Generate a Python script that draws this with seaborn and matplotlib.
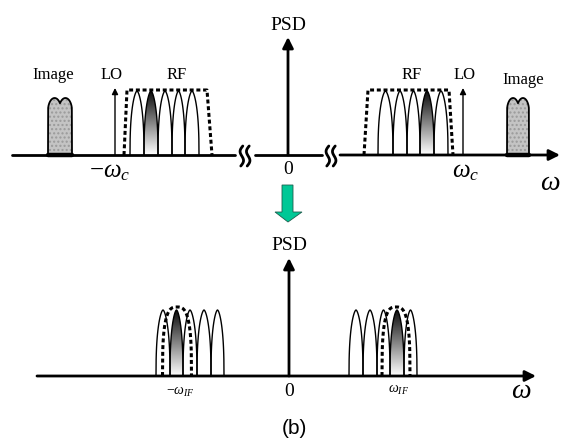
import numpy as np
import matplotlib
matplotlib.use("Agg")
import matplotlib.pyplot as plt
from matplotlib.patches import Polygon
import seaborn as sns

# ---- diagram values (pixel space of the original figure) ----
top_base = 155
top_peak = 91
bot_base = 376
bot_peak = 310

top_lobes_left = [130, 144, 158, 172, 185, 199]
top_lobes_right = [378, 393, 407, 420, 434, 448]
top_filled_left = 1
top_filled_right = 3

bot_lobes_left = [156, 170, 183, 197, 211, 224]
bot_lobes_right = [349, 363, 377, 390, 404, 417]
bot_filled_left = 1
bot_filled_right = 3

# RF filter mask (trapezoid) : bottom-left, top-left, top-right, bottom-right x
rf_mask_left = [124, 127, 207, 212]
rf_mask_right = [364, 368, 449, 453]
rf_mask_top = 90

# IF filter (dashed arch) : centre, half width
if_mask_left = (177, 14.5)
if_mask_right = (396, 14.0)
if_mask_top = 307

lo_x = [115, 463]
lo_top = 88
image_x = [(48, 72), (507, 529)]
image_top = 98

sns.set_style("white")
plt.rcParams["font.family"] = ["Liberation Serif", "DejaVu Serif"]
plt.rcParams["text.color"] = "black"
plt.rcParams["mathtext.fontset"] = "custom"
plt.rcParams["mathtext.rm"] = "Liberation Serif"
plt.rcParams["mathtext.it"] = "Liberation Serif:italic"

fig = plt.figure(figsize=(5.62, 4.43), dpi=100)
ax = fig.add_axes([0, 0, 1, 1])
ax.set_xlim(0, 562)
ax.set_ylim(443, 0)
ax.axis("off")


def lobe(x0, x1, base, peak, n=100):
    u = np.linspace(-1, 1, n)
    shape = (1 - np.abs(u) ** 1.6) ** 0.4
    xs = (x0 + x1) / 2 + u * (x1 - x0) / 2
    ys = base - (base - peak) * shape
    return xs, ys


def gradient_fill(xs, ys):
    poly = Polygon(np.column_stack([xs, ys]), closed=True, fc="none", ec="none")
    ax.add_patch(poly)
    grad = np.linspace(0.05, 1.0, 100).reshape(-1, 1)
    im = ax.imshow(grad, cmap="gray", vmin=0, vmax=1, aspect="auto",
                   extent=[xs.min(), xs.max(), ys.max(), ys.min()], zorder=2)
    im.set_clip_path(poly)


def draw_lobes(edges, filled, base, peak):
    for i in range(len(edges) - 1):
        xs, ys = lobe(edges[i], edges[i + 1], base, peak)
        if i == filled:
            gradient_fill(xs, ys)
        sns.lineplot(x=xs, y=ys, sort=False, estimator=None, color="black",
                     lw=1.0, ax=ax, zorder=3)


def arrow(x0, y0, x1, y1, lw, scale):
    ax.annotate("", xy=(x1, y1), xytext=(x0, y0),
                arrowprops=dict(arrowstyle="-|>", color="black", lw=lw,
                                mutation_scale=scale, shrinkA=0, shrinkB=0),
                zorder=5)


def squiggle(xc, yc):
    t = np.linspace(0, 1, 60)
    for dx in (-3.2, 3.2):
        xs = xc + dx - 2.2 * np.sin(2 * np.pi * t) - (t - 0.5) * 2.0
        ys = yc - 10 + 20 * t
        ax.plot(xs, ys, color="black", lw=2.0, zorder=4, solid_capstyle="round")


# ---------------- top panel ----------------
ax.plot([12, 235], [top_base, top_base], color="black", lw=2, zorder=4)
ax.plot([255, 322], [top_base, top_base], color="black", lw=2, zorder=4)
arrow(340, top_base, 560, top_base, 2, 16)
squiggle(245, top_base + 1)
squiggle(331, top_base + 1)
arrow(288, top_base, 288, 37, 2, 16)

draw_lobes(top_lobes_left, top_filled_left, top_base, top_peak)
draw_lobes(top_lobes_right, top_filled_right, top_base, top_peak)

for m in (rf_mask_left, rf_mask_right):
    ax.plot(m, [top_base, rf_mask_top, rf_mask_top, top_base], color="black",
            lw=2.2, ls=(0, (1.3, 0.9)), zorder=4)

for x in lo_x:
    arrow(x, top_base, x, lo_top, 1.0, 9)

for x0, x1 in image_x:
    u = np.linspace(-1, 1, 160)
    bump = np.maximum(np.sqrt(np.clip(1 - ((u + 0.45) / 0.55) ** 2, 0, 1)),
                      np.sqrt(np.clip(1 - ((u - 0.45) / 0.55) ** 2, 0, 1)))
    body = 0.78 + 0.22 * bump
    body[0] = body[-1] = 0
    xs = (x0 + x1) / 2 + u * (x1 - x0) / 2
    ys = top_base - (top_base - image_top) * body
    ax.fill(xs, ys, facecolor="#c4c4c4", edgecolor="#9a9a9a", lw=0,
            hatch="....", zorder=2)
    ax.plot(xs, ys, color="black", lw=1.3, zorder=3)
    ax.plot([x0, x1], [top_base, top_base], color="black", lw=3.2, zorder=4)

# ---------------- arrow between panels ----------------
green = [(282, 185), (293, 185), (293, 212), (302, 212), (288, 222),
         (275, 212), (282, 212)]
ax.add_patch(Polygon(green, closed=True, fc="#00c896", ec="#1d5e4e",
                     lw=0.6, zorder=5))

# ---------------- bottom panel ----------------
arrow(37, bot_base, 536, bot_base, 2, 16)
arrow(289, bot_base, 289, 258, 2, 16)

draw_lobes(bot_lobes_left, bot_filled_left, bot_base, bot_peak)
draw_lobes(bot_lobes_right, bot_filled_right, bot_base, bot_peak)

for xc, hw in (if_mask_left, if_mask_right):
    u = np.linspace(-1, 1, 120)
    xs = xc + u * hw
    ys = bot_base - (bot_base - if_mask_top) * (1 - np.abs(u) ** 3) ** (1 / 3)
    ax.plot(xs, ys, color="black", lw=2.2, ls=(0, (1.3, 0.9)), zorder=4)

# ---------------- text ----------------
ax.text(288, 25, "PSD", fontsize=14, ha="center", va="center")
ax.text(289, 245, "PSD", fontsize=14, ha="center", va="center")
ax.text(288, 170, "0", fontsize=14, ha="center", va="center")
ax.text(289, 392, "0", fontsize=14, ha="center", va="center")
ax.text(53, 75, "Image", fontsize=12, ha="center", va="center")
ax.text(523, 80, "Image", fontsize=12, ha="center", va="center")
ax.text(112, 75, "LO", fontsize=12, ha="center", va="center")
ax.text(465, 75, "LO", fontsize=12, ha="center", va="center")
ax.text(177, 75, "RF", fontsize=12, ha="center", va="center")
ax.text(412, 75, "RF", fontsize=12, ha="center", va="center")
ax.text(110, 172, r"$-\omega_c$", fontsize=18, ha="center", va="center")
ax.text(466, 172, r"$\omega_c$", fontsize=18, ha="center", va="center")
ax.text(550, 184, r"$\omega$", fontsize=20, ha="center", va="center")
ax.text(521, 392, r"$\omega$", fontsize=20, ha="center", va="center")
ax.text(180, 392, r"$-\omega_{IF}$", fontsize=10, ha="center", va="center")
ax.text(399, 390, r"$\omega_{IF}$", fontsize=10, ha="center", va="center")
ax.text(294, 428, "(b)", fontsize=15, ha="center", va="center",
        family=["Liberation Sans", "DejaVu Sans"])

fig.savefig("out.png", dpi=100)
